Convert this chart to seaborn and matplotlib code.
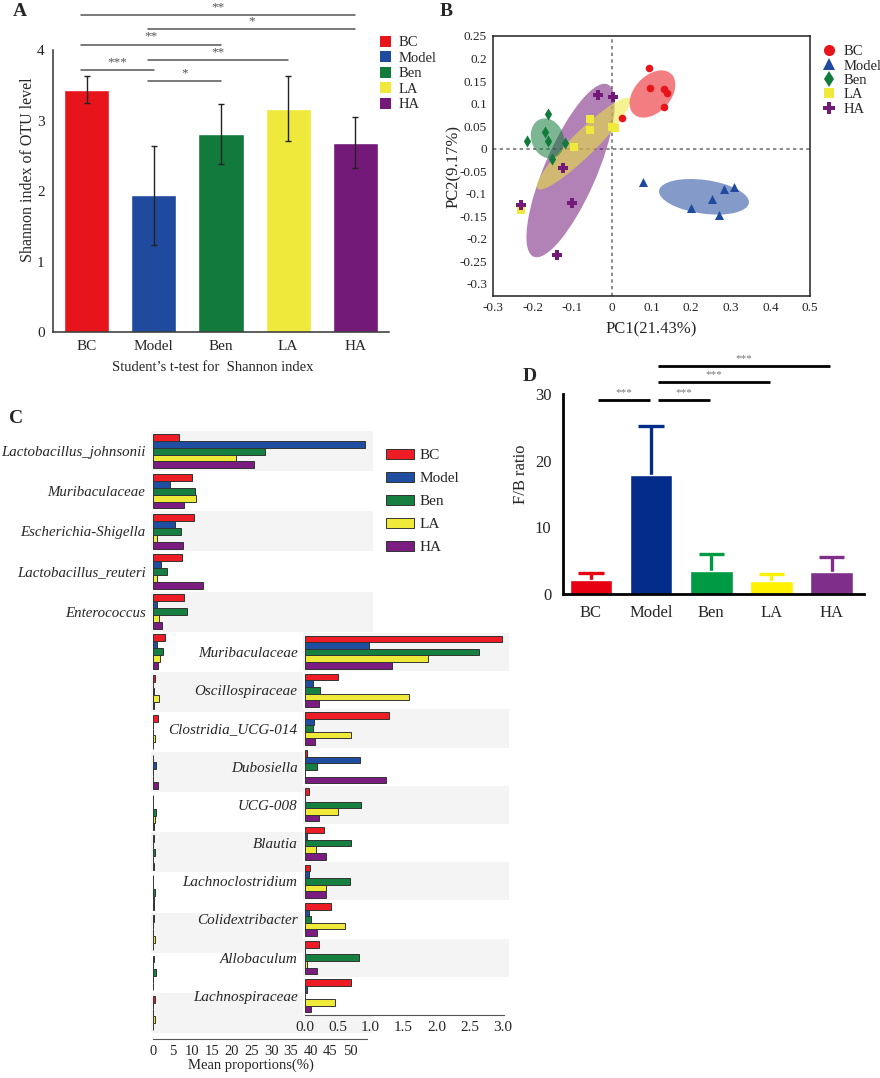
import numpy as np
import pandas as pd
import matplotlib
matplotlib.use('Agg')
import matplotlib.pyplot as plt
import seaborn as sns
from matplotlib.patches import Ellipse, Patch
from matplotlib.lines import Line2D
from matplotlib.ticker import MultipleLocator, FuncFormatter

sns.set_style('white')
plt.rcParams['font.family'] = ['Liberation Serif', 'DejaVu Serif']
plt.rcParams['axes.unicode_minus'] = False

# ---------------- data ----------------
groups = ['BC', 'Model', 'Ben', 'LA', 'HA']

# Panel A: Shannon index
shannon_mean = [3.44, 1.94, 2.81, 3.17, 2.69]
shannon_sd = [0.19, 0.70, 0.43, 0.46, 0.36]
colors_a = ['#E8141B', '#1F4A9E', '#127B3B', '#EEE93A', '#731A78']
sig_a = [(0, 4, 4.50, '**'), (1, 4, 4.30, '*'), (0, 2, 4.08, '**'),
         (1, 3, 3.86, '**'), (0, 1, 3.72, '***'), (1, 2, 3.56, '*')]

# Panel B: PCoA scores
pc1_bc = [0.093, 0.097, 0.130, 0.138, 0.130, 0.024]
pc2_bc = [0.179, 0.134, 0.133, 0.123, 0.092, 0.067]
pc1_model = [0.079, 0.199, 0.253, 0.283, 0.308, 0.271]
pc2_model = [-0.073, -0.132, -0.112, -0.090, -0.086, -0.148]
pc1_ben = [-0.163, -0.215, -0.169, -0.161, -0.119, -0.152]
pc2_ben = [0.076, 0.018, 0.036, 0.018, 0.013, -0.024]
pc1_la = [-0.055, -0.055, -0.097, 0.000, 0.007, -0.231]
pc2_la = [0.065, 0.042, 0.003, 0.048, 0.045, -0.136]
pc1_ha = [-0.036, 0.002, -0.123, -0.100, -0.231, -0.140]
pc2_ha = [0.118, 0.115, -0.044, -0.121, -0.124, -0.235]
colors_b = ['#E8141B', '#1F4A9E', '#127B3B', '#EEE93A', '#731A78']
markers_b = ['o', '^', 'd', 's', 'P']

# Panel C: mean proportions (%)
top_taxa = ['Lactobacillus_johnsonii', 'Muribaculaceae', 'Escherichia-Shigella',
            'Lactobacillus_reuteri', 'Enterococcus']
top_bc = [6.7, 9.9, 10.4, 7.4, 7.9]
top_model = [53.8, 4.4, 5.7, 2.1, 1.2]
top_ben = [28.5, 10.8, 7.1, 3.7, 8.7]
top_la = [21.0, 11.0, 1.2, 1.2, 1.7]
top_ha = [25.7, 7.9, 7.6, 12.8, 2.4]
bottom_taxa = ['Muribaculaceae', 'Oscillospiraceae', 'Clostridia_UCG-014', 'Dubosiella',
               'UCG-008', 'Blautia', 'Lachnoclostridium', 'Colidextribacter',
               'Allobaculum', 'Lachnospiraceae']
bot_bc = [3.00, 0.50, 1.28, 0.035, 0.06, 0.29, 0.08, 0.40, 0.22, 0.70]
bot_model = [0.97, 0.12, 0.14, 0.84, 0.005, 0.035, 0.06, 0.06, 0.005, 0.03]
bot_ben = [2.64, 0.23, 0.12, 0.18, 0.86, 0.70, 0.68, 0.10, 0.82, 0.005]
bot_la = [1.87, 1.59, 0.70, 0.01, 0.51, 0.17, 0.33, 0.61, 0.04, 0.46]
bot_ha = [1.33, 0.21, 0.16, 1.23, 0.21, 0.33, 0.32, 0.18, 0.19, 0.09]
colors_c = ['#EE1C25', '#1F4DA0', '#168040', '#EFEA3A', '#7A1C80']

# Panel D: F/B ratio
fb_mean = [2.05, 17.9, 3.45, 2.0, 3.26]
fb_err = [1.10, 7.3, 2.55, 0.96, 2.34]
colors_d = ['#E60012', '#032C8A', '#009944', '#FFF100', '#7F2F8A']
sig_d = [(0, 1, 29.1, '***'), (1, 2, 29.1, '***'), (1, 3, 31.8, '***'), (1, 4, 34.2, '***')]

# ---------------- figure ----------------
W, H = 880, 1078
fig = plt.figure(figsize=(W / 100, H / 100), dpi=100)


def px_axes(x0, y0, x1, y1):
    return fig.add_axes([x0 / W, 1 - y1 / H, (x1 - x0) / W, (y1 - y0) / H])


# ---------- Panel A ----------
axA = px_axes(53, 8, 389, 332)
sns.barplot(x=groups, y=shannon_mean, hue=groups, palette=colors_a, width=0.67,
            saturation=1, legend=False, errorbar=None, ax=axA)
axA.errorbar(np.arange(5), shannon_mean, yerr=shannon_sd, fmt='none', ecolor='#222222',
             elinewidth=1, capsize=2.5, capthick=1)
axA.set_xlim(-0.5, 4.5)
axA.set_ylim(0, 4.6)
axA.set_yticks([0, 1, 2, 3, 4])
for s in ['top', 'right']:
    axA.spines[s].set_visible(False)
for s in ['left', 'bottom']:
    axA.spines[s].set_color('#333333')
    axA.spines[s].set_linewidth(1.1)
axA.spines['left'].set_bounds(0, 4)
axA.tick_params(axis='both', direction='out', length=4, width=1, color='#333333',
                labelsize=11, pad=2)
axA.set_ylabel('Shannon index of OTU level', fontsize=11.5, labelpad=1)
axA.set_xlabel('Student\u2019s t-test for  Shannon index', fontsize=10.5)
axA.xaxis.set_label_coords(0.475, -0.088)
for i, j, yv, lab in sig_a:
    axA.plot([i - 0.08, j], [yv, yv], color='#555555', lw=1.1, clip_on=False)
    axA.text((i - 0.08 + j) / 2, yv + 0.03, lab, ha='center', va='bottom', fontsize=9.5,
             color='#555555')
handles_a = [Patch(facecolor=c, edgecolor='none') for c in colors_a]
axA.legend(handles_a, groups, loc='upper left', bbox_to_anchor=(380 / W, 1 - 36 / H),
           bbox_transform=fig.transFigure, frameon=False, fontsize=10.5,
           handlelength=0.75, handleheight=0.75, labelspacing=0.14, handletextpad=0.5,
           borderpad=0, borderaxespad=0)

# ---------- Panel B ----------
axB = px_axes(493.3, 36, 810, 296)
pcs = [(pc1_bc, pc2_bc), (pc1_model, pc2_model), (pc1_ben, pc2_ben),
       (pc1_la, pc2_la), (pc1_ha, pc2_ha)]


def conf_ellipse(x, y, n_std, **kw):
    cov = np.cov(x, y)
    vals, vecs = np.linalg.eigh(cov)
    order = vals.argsort()[::-1]
    vals = vals[order]
    vecs = vecs[:, order]
    angle = np.degrees(np.arctan2(vecs[1, 0], vecs[0, 0]))
    w, h = 2 * n_std * np.sqrt(vals)
    return Ellipse((np.mean(x), np.mean(y)), w, h, angle=angle, **kw)


for k in [4, 3, 2, 0, 1]:
    axB.add_patch(conf_ellipse(np.array(pcs[k][0]), np.array(pcs[k][1]), 1.36,
                               facecolor=colors_b[k], alpha=0.55, edgecolor='none', zorder=1))
axB.axvline(0, color='#777777', ls=(0, (2, 2)), lw=1.2, zorder=0.5)
axB.axhline(0, color='#777777', ls=(0, (2, 2)), lw=1.2, zorder=0.5)
dfb = pd.DataFrame({
    'PC1': sum([list(p[0]) for p in pcs], []),
    'PC2': sum([list(p[1]) for p in pcs], []),
    'group': sum([[g] * len(p[0]) for g, p in zip(groups, pcs)], []),
})
sizes_b = {'BC': 30, 'Model': 42, 'Ben': 38, 'LA': 28, 'HA': 48}
for g, c, m in zip(groups, colors_b, markers_b):
    sub = dfb[dfb.group == g]
    sns.scatterplot(data=sub, x='PC1', y='PC2', color=c, marker=m, s=sizes_b[g],
                    linewidth=0, ax=axB, zorder=3, legend=False)
axB.set_xlim(-0.3, 0.5)
axB.set_ylim(-0.327, 0.25)
axB.xaxis.set_major_locator(MultipleLocator(0.1))
axB.yaxis.set_major_locator(MultipleLocator(0.05))
fmt = FuncFormatter(lambda v, p: ('%g' % round(v, 2)) if abs(v) > 1e-9 else '0')
axB.xaxis.set_major_formatter(fmt)
axB.yaxis.set_major_formatter(fmt)
for s in axB.spines.values():
    s.set_color('#222222')
    s.set_linewidth(1.1)
axB.tick_params(axis='both', direction='out', length=3, width=1, labelsize=9.5, pad=1.5)
axB.set_xlabel('PC1(21.43%)', fontsize=12, labelpad=5)
axB.set_ylabel('PC2(9.17%)', fontsize=12, labelpad=-2)
handles_b = [Line2D([], [], ls='none', marker=m, color=c, markersize=ms, markeredgewidth=0)
             for m, c, ms in zip(markers_b, colors_b, [8, 8, 8, 7, 9])]
axB.legend(handles_b, groups, loc='upper left', bbox_to_anchor=(822 / W, 1 - 45 / H),
           bbox_transform=fig.transFigure, frameon=False, fontsize=10.5,
           handlelength=1.0, labelspacing=0.08, handletextpad=0.5,
           borderpad=0, borderaxespad=0)

# ---------- Panel C ----------
axC = px_axes(151, 431, 372.7, 1039)
row_ids = ['r%d' % i for i in range(15)]
vals_c = {'BC': top_bc + bot_bc, 'Model': top_model + bot_model, 'Ben': top_ben + bot_ben,
          'LA': top_la + bot_la, 'HA': top_ha + bot_ha}
dfc = pd.DataFrame([{'row': r, 'group': g, 'value': vals_c[g][i]}
                    for g in groups for i, r in enumerate(row_ids)])
for i in range(0, 15, 2):
    axC.axhspan(i - 0.5, i + 0.5, color='#F4F4F4', zorder=0, lw=0)
sns.barplot(data=dfc, x='value', y='row', hue='group', hue_order=groups, order=row_ids,
            palette=colors_c, orient='h', width=0.86, edgecolor='#333333', linewidth=0.7,
            saturation=1, legend=False, errorbar=None, ax=axC)
axC.set_xlim(-0.43, 55.7)
axC.set_ylim(14.65, -0.5)
axC.set_yticks(range(15))
axC.set_yticklabels(top_taxa + [''] * 10, fontstyle='italic', fontsize=10.7)
axC.set_xticks(range(0, 55, 5))
for s in ['top', 'right', 'left']:
    axC.spines[s].set_visible(False)
axC.spines['bottom'].set_color('#555555')
axC.spines['bottom'].set_linewidth(0.8)
axC.spines['bottom'].set_bounds(0, 54.2)
axC.tick_params(axis='y', length=0, pad=4)
axC.tick_params(axis='x', direction='in', length=3, width=0.8, color='#555555',
                labelsize=10.5, pad=4)
axC.set_ylabel('')
axC.set_xlabel('Mean proportions(%)', fontsize=10.5)
axC.xaxis.set_label_coords(0.45, -0.032)
handles_c = [Patch(facecolor=c, edgecolor='#333333', linewidth=0.7) for c in colors_c]
axC.legend(handles_c, groups, loc='upper left', bbox_to_anchor=(386 / W, 1 - 449 / H),
           bbox_transform=fig.transFigure, frameon=False, fontsize=11,
           handlelength=1.8, handleheight=0.65, labelspacing=0.62, handletextpad=0.4,
           borderpad=0, borderaxespad=0)

axI = px_axes(303, 633, 509, 1015)
axI.set_facecolor('white')
inset_ids = ['b%d' % i for i in range(10)]
vals_i = {'BC': bot_bc, 'Model': bot_model, 'Ben': bot_ben, 'LA': bot_la, 'HA': bot_ha}
dfi = pd.DataFrame([{'row': r, 'group': g, 'value': vals_i[g][i]}
                    for g in groups for i, r in enumerate(inset_ids)])
for i in range(0, 10, 2):
    axI.axhspan(i - 0.5, i + 0.5, color='#F4F4F4', zorder=0, lw=0)
sns.barplot(data=dfi, x='value', y='row', hue='group', hue_order=groups, order=inset_ids,
            palette=colors_c, orient='h', width=0.86, edgecolor='#333333', linewidth=0.7,
            saturation=1, legend=False, errorbar=None, ax=axI)
axI.set_xlim(-0.026, 3.10)
axI.set_ylim(9.5, -0.5)
axI.set_yticks(range(10))
axI.set_yticklabels(bottom_taxa, fontstyle='italic', fontsize=10.9)
axI.set_xticks([0, 0.5, 1.0, 1.5, 2.0, 2.5, 3.0])
axI.set_xticklabels(['0.0', '0.5', '1.0', '1.5', '2.0', '2.5', '3.0'])
for s in ['top', 'right', 'left']:
    axI.spines[s].set_visible(False)
axI.spines['bottom'].set_color('#555555')
axI.spines['bottom'].set_linewidth(0.8)
axI.spines['bottom'].set_bounds(0, 3.02)
axI.tick_params(axis='y', length=0, pad=4)
axI.tick_params(axis='x', direction='in', length=3, width=0.8, color='#555555',
                labelsize=11, pad=4)
axI.set_ylabel('')
axI.set_xlabel('')

# ---------- Panel D ----------
axD = px_axes(562.7, 355, 864, 594)
sns.barplot(x=groups, y=fb_mean, hue=groups, palette=colors_d, width=0.71, saturation=1,
            legend=False, errorbar=None, ax=axD)
for i, (m, e, c) in enumerate(zip(fb_mean, fb_err, colors_d)):
    axD.errorbar([i], [m], yerr=[[0], [e]], fmt='none', ecolor=c, elinewidth=2.4,
                 capsize=0, zorder=0.8)
    axD.hlines(m + e, i - 0.21, i + 0.21, color=c, lw=2.4)
axD.set_xlim(-0.47, 4.54)
axD.set_ylim(0, 35.9)
axD.set_yticks([0, 10, 20, 30])
for s in ['top', 'right']:
    axD.spines[s].set_visible(False)
for s in ['left', 'bottom']:
    axD.spines[s].set_color('black')
    axD.spines[s].set_linewidth(2)
axD.spines['left'].set_bounds(0, 30)
axD.tick_params(axis='both', direction='out', length=5, width=1.8, color='black',
                labelsize=12, pad=3)
axD.set_ylabel('F/B ratio', fontsize=12, labelpad=4)
for i, j, yv, lab in sig_d:
    x0, x1 = i + 0.12, j - 0.02
    axD.plot([x0, x1], [yv, yv], color='black', lw=2, clip_on=False, solid_capstyle='butt')
    axD.text((x0 + x1) / 2, yv + 0.5, lab, ha='center', va='bottom', fontsize=8,
             color='#777777')

# panel letters
for lab, x, y in [('A', 13, 3), ('B', 440, 3), ('C', 9, 410), ('D', 523, 368)]:
    fig.text(x / W, 1 - y / H, lab, fontsize=14, fontweight='bold', va='top', ha='left')

fig.savefig('out.png', dpi=100)
